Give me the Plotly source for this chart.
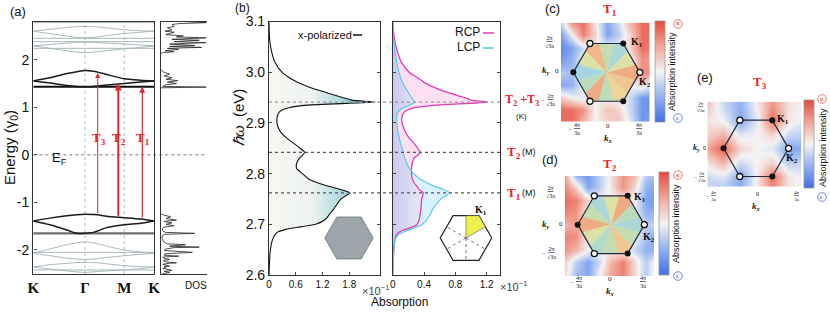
import numpy as np
import plotly.graph_objects as go
from plotly.colors import sample_colorscale

W, H = 830, 312
def PX(x): return x / W
def PY(y): return 1 - y / H

SANS = "Liberation Sans, Arial, sans-serif"
SERIF = "Liberation Serif, Times New Roman, serif"
RED = "#e8242b"
GRAY = "#a6b8bb"

# ---------------- (a) band structure ----------------
k_ticks = [0.0, 1.0, 1.76, 2.335]
k_labels = ["<b>K</b>", "<b>Γ</b>", "<b>M</b>", "<b>K</b>"]
k_path = [0.0, 0.32, 0.65, 0.84, 1.0, 1.16, 1.246, 1.42, 1.76, 2.08, 2.335]
cb_up = [1.555, 1.62, 1.71, 1.75, 1.775, 1.76, 1.74, 1.69, 1.60, 1.57, 1.555]
cb_lo = [1.555, 1.51, 1.46, 1.44, 1.43, 1.44, 1.45, 1.47, 1.50, 1.53, 1.555]
vb_up = [-1.39, -1.33, -1.28, -1.26, -1.25, -1.255, -1.26, -1.29, -1.32, -1.35, -1.39]
vb_lo = [-1.39, -1.47, -1.58, -1.65, -1.65, -1.63, -1.60, -1.53, -1.47, -1.44, -1.39]
gA_up = [2.60, 2.64, 2.68, 2.695, 2.70, 2.695, 2.69, 2.67, 2.63, 2.61, 2.60]
gA_lo = [2.60, 2.55, 2.50, 2.47, 2.46, 2.47, 2.48, 2.51, 2.55, 2.58, 2.60]
gB_up = [2.29, 2.32, 2.35, 2.365, 2.37, 2.365, 2.36, 2.35, 2.33, 2.31, 2.29]
gB_lo = [2.29, 2.24, 2.19, 2.16, 2.15, 2.16, 2.17, 2.19, 2.23, 2.26, 2.29]
gC_up = [-2.07, -1.98, -1.89, -1.85, -1.83, -1.85, -1.87, -1.92, -2.00, -2.04, -2.07]
gC_lo = [-2.07, -2.12, -2.17, -2.19, -2.20, -2.19, -2.18, -2.16, -2.12, -2.09, -2.07]
gD_up = [-2.36, -2.31, -2.28, -2.265, -2.26, -2.265, -2.27, -2.29, -2.33, -2.35, -2.36]
gD_lo = [-2.36, -2.40, -2.44, -2.46, -2.47, -2.46, -2.45, -2.44, -2.42, -2.39, -2.36]
flat_gray = [2.78, 2.45, 2.38, 2.24, -2.05, -2.42]
flat_black = 1.43
flat_dark = -1.65

trans_k = [1.246, 1.644, 2.108]
trans_lo = [-1.26, -1.31, -1.35]
trans_hi = [1.72, 1.50, 1.43]
trans_names = ["T<sub>3</sub>", "T<sub>2</sub>", "T<sub>1</sub>"]
trans_width = [1.0, 2.0, 1.2]

dos_E = [-2.50, -2.47, -2.45, -2.43, -2.41, -2.39, -2.37, -2.35, -2.34, -2.32, -2.30, -2.28, -2.27, -2.25,
         -2.22, -2.20, -2.18, -2.15, -2.13, -2.11, -2.08, -2.05, -2.03, -2.01, -1.98, -1.95, -1.94, -1.92,
         -1.89, -1.87, -1.84, -1.80, -1.75, -1.70, -1.67, -1.65, -1.63, -1.60, -1.55, -1.52, -1.49, -1.46,
         -1.43, -1.40, -1.37, -1.34, -1.30, -1.27, -1.25, -1.23,
         1.41, 1.425, 1.44, 1.47, 1.50, 1.53, 1.56, 1.59, 1.62, 1.66, 1.70, 1.74, 1.78, 1.80,
         2.13, 2.15, 2.17, 2.19, 2.22, 2.24, 2.26, 2.28, 2.30, 2.33, 2.36, 2.38, 2.41, 2.43, 2.46, 2.48,
         2.50, 2.53, 2.55, 2.58, 2.60, 2.63, 2.67, 2.70, 2.74, 2.76, 2.78, 2.80]
dos_v = [0.05, 0.2, 0.08, 0.25, 0.18, 0.05, 0.12, 0.08, 0.2, 0.1, 0.05, 0.2, 0.35, 0.1,
         0.06, 0.2, 0.08, 0.05, 0.4, 0.08, 0.1, 0.7, 0.25, 0.08, 0.12, 0.3, 0.85, 0.2,
         0.55, 0.15, 0.08, 0.05, 0.03, 0.04, 0.1, 0.75, 0.1, 0.05, 0.04, 0.07, 0.3, 0.12,
         0.25, 0.08, 0.35, 0.12, 0.22, 0.08, 0.02, 0.0,
         0.0, 1.0, 0.05, 0.1, 0.35, 0.15, 0.38, 0.12, 0.25, 0.08, 0.2, 0.07, 0.02, 0.0,
         0.0, 0.05, 0.3, 0.1, 0.4, 0.15, 0.9, 0.2, 0.75, 0.2, 1.0, 0.3, 0.85, 0.25, 1.0, 0.35,
         0.5, 0.12, 0.2, 0.3, 0.1, 0.25, 0.15, 0.3, 0.25, 0.4, 1.0, 0.6]

# ---------------- (b) absorption spectra ----------------
E_b = [2.60, 2.64, 2.66, 2.67, 2.68, 2.685, 2.69, 2.695, 2.70, 2.71, 2.72, 2.73, 2.74, 2.75, 2.755,
       2.762, 2.77, 2.775, 2.78, 2.79, 2.80, 2.81, 2.82, 2.83, 2.835, 2.842, 2.85, 2.86, 2.87, 2.88,
       2.89, 2.90, 2.91, 2.92, 2.925, 2.93, 2.935, 2.941, 2.945, 2.95, 2.96, 2.97, 2.98, 2.99, 3.00,
       3.02, 3.04, 3.06, 3.08, 3.10]
xpol = [0.0, 0.02, 0.05, 0.08, 0.14, 0.2, 0.38, 0.7, 1.05, 1.27, 1.36, 1.45, 1.53, 1.62, 1.70,
        1.82, 1.55, 1.35, 1.15, 0.88, 0.75, 0.62, 0.62, 0.68, 0.74, 0.80, 0.70, 0.55, 0.40, 0.28,
        0.21, 0.18, 0.18, 0.22, 0.28, 0.45, 0.85, 2.38, 1.85, 1.65, 1.28, 0.92, 0.64, 0.44, 0.29,
        0.13, 0.06, 0.02, 0.005, 0.0]
rcp = [0.0, 0.01, 0.02, 0.03, 0.05, 0.09, 0.16, 0.26, 0.31, 0.34, 0.35, 0.36, 0.365, 0.37, 0.38,
       0.39, 0.33, 0.31, 0.28, 0.25, 0.24, 0.24, 0.25, 0.27, 0.31, 0.35, 0.32, 0.27, 0.21, 0.17,
       0.14, 0.12, 0.115, 0.14, 0.18, 0.28, 0.56, 1.21, 1.0, 0.92, 0.70, 0.53, 0.40, 0.31, 0.21,
       0.11, 0.06, 0.03, 0.01, 0.0]
lcp = [0.0, 0.01, 0.02, 0.03, 0.08, 0.14, 0.22, 0.31, 0.38, 0.44, 0.48, 0.51, 0.56, 0.62, 0.66,
       0.73, 0.63, 0.53, 0.46, 0.34, 0.27, 0.21, 0.18, 0.155, 0.145, 0.135, 0.12, 0.10, 0.085, 0.07,
       0.06, 0.055, 0.05, 0.06, 0.09, 0.14, 0.21, 0.29, 0.26, 0.24, 0.20, 0.16, 0.125, 0.10, 0.08,
       0.05, 0.03, 0.015, 0.005, 0.0]
peak_E = [2.941, 2.842, 2.762]

# ---------------- (c)(d)(e) k-space maps ----------------
kx_grid = [-1.4, -1.05, -0.7, -0.35, 0.0, 0.35, 0.7, 1.05, 1.4]
ky_grid_top_down = [1.5, 1.125, 0.75, 0.375, 0.0, -0.375, -0.75, -1.125, -1.5]
map_c = [
    [-0.3, 0.6, 0.8, 0.1, -0.6, -0.2, 0.4, 0.8, 0.8],
    [-0.7, 0.0, 0.7, 0.2, -0.6, -0.3, 0.2, 0.8, 0.8],
    [-0.8, -0.6, -0.2, 0.0, 0.0, 0.0, 0.2, 0.8, 0.7],
    [-0.7, -0.5, 0.0, 0.0, 0.0, 0.0, 0.0, 0.6, 0.5],
    [-0.3, -0.4, 0.0, 0.0, 0.0, 0.0, 0.0, 0.6, 0.7],
    [-0.6, -0.5, 0.0, 0.0, 0.0, 0.0, 0.0, 0.2, -0.2],
    [0.3, 0.0, -0.1, 0.0, 0.0, 0.0, -0.2, -0.7, -0.7],
    [0.8, 0.8, 0.6, 0.0, 0.3, 0.2, -0.2, -0.7, -0.7],
    [0.8, 0.8, 0.4, 0.0, 0.2, 0.3, -0.1, -0.7, -0.6],
]
map_d = [
    [0.6, -0.5, -0.7, -0.3, 0.1, 0.6, 0.4, -0.3, -0.4],
    [0.7, 0.2, -0.6, -0.3, 0.1, 0.6, 0.2, -0.5, -0.6],
    [0.8, 0.7, 0.2, 0.0, 0.0, 0.0, 0.0, -0.6, -0.7],
    [0.7, 0.6, 0.0, 0.0, 0.0, 0.0, 0.0, -0.5, -0.5],
    [0.4, 0.5, 0.0, 0.0, 0.0, 0.0, 0.0, -0.3, -0.2],
    [0.7, 0.6, 0.0, 0.0, 0.0, 0.0, 0.0, -0.4, -0.6],
    [0.6, 0.4, 0.0, 0.0, 0.0, 0.0, -0.2, -0.5, -0.5],
    [0.3, -0.3, -0.6, -0.2, 0.4, 0.7, 0.2, -0.3, 0.2],
    [0.2, -0.4, -0.6, 0.0, 0.5, 0.7, 0.2, -0.3, 0.3],
]
kx_grid_e = [-1.5, -1.0, -0.5, 0.0, 0.5, 1.0, 1.5]
ky_grid_e_top_down = [1.299, 0.866, 0.433, 0.0, -0.433, -0.866, -1.299]
map_e = [
    [0.3, -0.2, -0.5, 0.0, 0.6, 0.1, 0.0],
    [0.1, 0.0, -0.6, -0.1, 0.8, 0.1, -0.1],
    [0.2, 0.4, -0.1, 0.0, 0.2, -0.2, -0.3],
    [0.5, 0.85, 0.2, 0.0, -0.1, -0.6, -0.5],
    [0.1, 0.4, -0.2, 0.0, 0.2, -0.3, -0.2],
    [-0.2, -0.1, -0.6, 0.0, 0.8, 0.1, -0.1],
    [-0.3, -0.4, -0.5, 0.1, 0.6, 0.1, 0.0],
]
sector_angles = [0, 30, 60, 90, 120, 150, 180, 210, 240, 270, 300, 330]
sector_c = [0.85, 0.6, 0.35, 0.5, 0.8, 0.6, 0.3, 0.45, 0.85, 0.45, 0.7, 0.75]
sector_d = [0.35, 0.45, 0.85, 0.6, 0.35, 0.5, 0.85, 0.6, 0.4, 0.5, 0.75, 0.5]
hex_angles = [0, 60, 120, 180, 240, 300]
open_vertices = [0, 120, 240]
filled_vertices = [60, 180, 300]

CW = [[0, "#3f6fe6"], [0.25, "#93b2f0"], [0.5, "#f3f3f3"], [0.75, "#f1a496"], [1, "#e64a3a"]]
JET = [[0, "#86a9e4"], [0.3, "#a4d4e4"], [0.5, "#c4ddb0"], [0.65, "#ebe3a0"], [0.8, "#f1b689"], [1, "#ea8c70"]]

fig = go.Figure()

def line_trace(x, y, color, width, xa, ya, shape="spline", dash=None):
    fig.add_trace(go.Scatter(x=x, y=y, mode="lines", xaxis=xa, yaxis=ya, hoverinfo="skip",
                             line=dict(color=color, width=width, shape=shape, smoothing=0.8, dash=dash)))

# (a) bands
for b in [gA_up, gA_lo, gB_up, gB_lo, gC_up, gC_lo, gD_up, gD_lo]:
    line_trace(k_path, b, GRAY, 1.0, "x", "y")
for e in flat_gray:
    line_trace([k_ticks[0], k_ticks[-1]], [e, e], GRAY, 1.0, "x", "y", shape="linear")
line_trace([k_ticks[0], k_ticks[-1]], [flat_dark, flat_dark], "#6e6e6e", 2.4, "x", "y", shape="linear")
line_trace([k_ticks[0], k_ticks[-1]], [flat_black, flat_black], "#111", 2.0, "x", "y", shape="linear")
for b in [cb_up, cb_lo, vb_up, vb_lo]:
    line_trace(k_path, b, "#1a1a1a", 1.5, "x", "y")
# DOS
line_trace(dos_v, dos_E, "#222", 0.8, "x2", "y2", shape="linear")

# (b) x-polarized
fig.add_trace(go.Scatter(x=xpol, y=E_b, xaxis="x3", yaxis="y3", mode="lines", hoverinfo="skip",
                         line=dict(color="#111", width=1.1, shape="spline", smoothing=0.6),
                         fill="tozerox",
                         fillgradient=dict(type="horizontal",
                                           colorscale=[[0, "#f7f7f2"], [0.4, "#eef3f1"], [0.72, "#a4d4db"], [1, "#38a2b6"]])))
# (b) circular
min_v = np.minimum(rcp, lcp).tolist()
sp = dict(shape="spline", smoothing=0.6)
fig.add_trace(go.Scatter(x=min_v, y=E_b, xaxis="x4", yaxis="y4", mode="lines", hoverinfo="skip",
                         line=dict(width=0, **sp), fill="tozerox",
                         fillgradient=dict(type="horizontal", colorscale=[[0, "#c9c9ee"], [1, "#ebeaf8"]])))
fig.add_trace(go.Scatter(x=rcp, y=E_b, xaxis="x4", yaxis="y4", mode="lines", hoverinfo="skip",
                         line=dict(width=0, **sp), fill="tonextx", fillcolor="#fbe0f2"))
fig.add_trace(go.Scatter(x=min_v, y=E_b, xaxis="x4", yaxis="y4", mode="lines", hoverinfo="skip",
                         line=dict(width=0, **sp)))
fig.add_trace(go.Scatter(x=lcp, y=E_b, xaxis="x4", yaxis="y4", mode="lines", hoverinfo="skip",
                         line=dict(width=0, **sp), fill="tonextx", fillcolor="#d8f1fa"))
fig.add_trace(go.Scatter(x=rcp, y=E_b, xaxis="x4", yaxis="y4", mode="lines", hoverinfo="skip",
                         line=dict(color="#e23bb5", width=1.3, **sp)))
fig.add_trace(go.Scatter(x=lcp, y=E_b, xaxis="x4", yaxis="y4", mode="lines", hoverinfo="skip",
                         line=dict(color="#4cc8ea", width=1.1, **sp)))

# insets in (b)
hx = [np.cos(np.radians(a)) for a in hex_angles + [0]]
hy = [np.sin(np.radians(a)) for a in hex_angles + [0]]
fig.add_trace(go.Scatter(x=hx, y=hy, xaxis="x8", yaxis="y8", mode="lines", fill="toself",
                         fillcolor="#9aa6a9", line=dict(color="#7b8689", width=1), hoverinfo="skip"))
fig.add_trace(go.Scatter(x=hx, y=hy, xaxis="x9", yaxis="y9", mode="lines", fill="toself",
                         fillcolor="white", line=dict(color="#222", width=1.2), hoverinfo="skip"))
r_mid = np.sqrt(3) / 2
kite_ang = [90, 60, 30]
kite_r = [r_mid, 1.0, r_mid]
kx_k = [0] + [r * np.cos(np.radians(a)) for r, a in zip(kite_r, kite_ang)] + [0]
ky_k = [0] + [r * np.sin(np.radians(a)) for r, a in zip(kite_r, kite_ang)] + [0]
fig.add_trace(go.Scatter(x=kx_k, y=ky_k, xaxis="x9", yaxis="y9", mode="lines", fill="toself",
                         fillcolor="#eef04a", line=dict(color="#555", width=0.6), hoverinfo="skip"))
for a in [150, 210, 270, 330]:
    fig.add_trace(go.Scatter(x=[0, r_mid * np.cos(np.radians(a))], y=[0, r_mid * np.sin(np.radians(a))],
                             xaxis="x9", yaxis="y9", mode="lines", hoverinfo="skip",
                             line=dict(color="#555", width=0.8, dash="dot")))

# k-space maps
def hex_r(phi):
    return r_mid / np.cos(np.radians((phi % 60) - 30))

def bz_panel(xa, ya, kxg, kyg_td, zrows, cbar, sectors=None):
    fig.add_trace(go.Heatmap(x=kxg, y=kyg_td[::-1], z=zrows[::-1], xaxis=xa, yaxis=ya,
                             colorscale=CW, zmin=-1, zmax=1, zsmooth="best", hoverinfo="skip",
                             colorbar=cbar))
    if sectors is not None:
        cols = sample_colorscale(JET, sectors)
        for th, c in zip(sector_angles, cols):
            phis = [th - 15, th, th + 15]
            xs = [0] + [hex_r(p) * np.cos(np.radians(p)) for p in phis] + [0]
            ys = [0] + [hex_r(p) * np.sin(np.radians(p)) for p in phis] + [0]
            fig.add_trace(go.Scatter(x=xs, y=ys, xaxis=xa, yaxis=ya, mode="lines", fill="toself",
                                     fillcolor=c, line=dict(color=c, width=0.6), hoverinfo="skip"))
    fig.add_trace(go.Scatter(x=hx, y=hy, xaxis=xa, yaxis=ya, mode="lines", hoverinfo="skip",
                             line=dict(color="#1e2a40", width=1.2)))
    fig.add_trace(go.Scatter(x=[np.cos(np.radians(a)) for a in filled_vertices],
                             y=[np.sin(np.radians(a)) for a in filled_vertices],
                             xaxis=xa, yaxis=ya, mode="markers", hoverinfo="skip",
                             marker=dict(size=6, color="#111")))
    fig.add_trace(go.Scatter(x=[np.cos(np.radians(a)) for a in open_vertices],
                             y=[np.sin(np.radians(a)) for a in open_vertices],
                             xaxis=xa, yaxis=ya, mode="markers", hoverinfo="skip",
                             marker=dict(size=6, color="white", line=dict(color="#111", width=1.3))))

def cbar(x, yc, ln):
    return dict(x=PX(x), xanchor="left", y=PY(yc), yanchor="middle", len=ln, lenmode="pixels",
                thickness=10, thicknessmode="pixels", showticklabels=False, ticks="",
                outlinewidth=0.8, outlinecolor="#999", xpad=0, ypad=0)

bz_panel("x5", "y5", kx_grid, ky_grid_top_down, map_c, cbar(655, 71.2, 101), sector_c)
bz_panel("x6", "y6", kx_grid, ky_grid_top_down, map_d, cbar(659, 223.5, 103), sector_d)
bz_panel("x7", "y7", kx_grid_e, ky_grid_e_top_down, map_e, cbar(804, 144, 88), None)

# ---------------- layout ----------------
def axis_frame(**kw):
    d = dict(showgrid=False, zeroline=False, showline=True, linecolor="#333", linewidth=1.2,
             automargin=False)
    d.update(kw)
    return d

hidden = dict(visible=False, showgrid=False, zeroline=False, automargin=False)
ya_dom = [PY(274), PY(21.7)]
yb_dom = [PY(275), PY(21.5)]

layout = dict(
    template="none",
    width=W, height=H, margin=dict(l=0, r=0, t=0, b=0, pad=0, autoexpand=False),
    paper_bgcolor="white", plot_bgcolor="rgba(0,0,0,0)",
    showlegend=False, font=dict(family=SANS, color="#111"),
    xaxis=axis_frame(domain=[PX(33.3), PX(154)], range=[0, 2.335], tickvals=k_ticks, ticktext=k_labels,
                     tickfont=dict(family=SERIF, size=15, color="#111"), ticks="", mirror=True,
                     linewidth=1.4, anchor="y"),
    yaxis=axis_frame(domain=ya_dom, range=[-2.505, 2.8], tickvals=[-2, -1, 0, 1, 2],
                     ticktext=["-2", "-1", "0", "1", "2"], tickfont=dict(size=14), ticks="inside",
                     ticklen=3, mirror=True, linewidth=1.4, anchor="x"),
    xaxis2=axis_frame(domain=[PX(160.5), PX(207)], range=[0, 1.02], showticklabels=False, ticks="",
                      mirror=True, anchor="y2"),
    yaxis2=axis_frame(domain=ya_dom, range=[-2.505, 2.8], showticklabels=False, ticks="", anchor="x2"),
    xaxis3=axis_frame(domain=[PX(269), PX(380)], range=[0, 2.49], tickvals=[0, 0.6, 1.2, 1.8],
                      ticktext=["0", "0.6", "1.2", "1.8"], tickfont=dict(size=10), ticks="inside",
                      ticklen=3, mirror=True, anchor="y3"),
    yaxis3=axis_frame(domain=yb_dom, range=[2.6, 3.1], tickvals=[2.6, 2.7, 2.8, 2.9, 3.0, 3.1],
                      ticktext=["2.6", "2.7", "2.8", "2.9", "3.0", "3.1"], tickfont=dict(size=14),
                      ticks="inside", ticklen=3, mirror="ticks", anchor="x3"),
    xaxis4=axis_frame(domain=[PX(392.7), PX(500)], range=[0, 1.37], tickvals=[0, 0.4, 0.8, 1.2],
                      ticktext=["0", "0.4", "0.8", "1.2"], tickfont=dict(size=10), ticks="inside",
                      ticklen=3, mirror=True, anchor="y4"),
    yaxis4=axis_frame(domain=yb_dom, range=[2.6, 3.1], tickvals=[2.6, 2.7, 2.8, 2.9, 3.0, 3.1],
                      showticklabels=False, ticks="inside", ticklen=3, mirror="ticks", anchor="x4"),
    xaxis5=dict(hidden, domain=[PX(561), PX(649.5)], range=[-1.37, 1.29], anchor="y5"),
    yaxis5=dict(hidden, domain=[PY(121.7), PY(22.7)], range=[-1.48, 1.49], anchor="x5"),
    xaxis6=dict(hidden, domain=[PX(565), PX(654)], range=[-1.38, 1.29], anchor="y6"),
    yaxis6=dict(hidden, domain=[PY(276), PY(176)], range=[-1.54, 1.46], anchor="x6"),
    xaxis7=dict(hidden, domain=[PX(707.3), PX(801.7)], range=[-1.5, 1.405], anchor="y7"),
    yaxis7=dict(hidden, domain=[PY(186.7), PY(101.7)], range=[-1.18, 1.435], anchor="x7"),
    xaxis8=dict(hidden, domain=[PX(320), PX(378)], range=[-1.198, 1.198], anchor="y8"),
    yaxis8=dict(hidden, domain=[PY(262), PY(214)], range=[-0.992, 0.992], anchor="x8"),
    xaxis9=dict(hidden, domain=[PX(436), PX(496)], range=[-1.163, 1.163], anchor="y9"),
    yaxis9=dict(hidden, domain=[PY(264), PY(212)], range=[-1.008, 1.008], anchor="x9"),
)

shapes = []
for kv in k_ticks[1:3]:
    shapes.append(dict(type="line", xref="x", yref="y domain", x0=kv, x1=kv, y0=0, y1=1, layer="below",
                       line=dict(color="#aaaaaa", width=0.8, dash="dot")))
shapes.append(dict(type="line", xref="paper", yref="y", x0=PX(33.3), x1=PX(207), y0=0, y1=0,
                   line=dict(color="#555", width=0.8, dash="dot")))
for i, e in enumerate(peak_E):
    shapes.append(dict(type="line", xref="paper", yref="y3", x0=PX(269), x1=PX(502), y0=e, y1=e,
                       line=dict(color="#999" if i == 0 else "#555", width=1.2, dash="dot")))
# legend dashes
shapes.append(dict(type="line", xref="paper", yref="paper", x0=PX(353), x1=PX(362), y0=PY(35), y1=PY(35),
                   line=dict(color="#111", width=1.5)))
shapes.append(dict(type="line", xref="paper", yref="paper", x0=PX(483), x1=PX(494), y0=PY(33), y1=PY(33),
                   line=dict(color="#e23bb5", width=1.5)))
shapes.append(dict(type="line", xref="paper", yref="paper", x0=PX(483), x1=PX(494), y0=PY(48), y1=PY(48),
                   line=dict(color="#4cc8ea", width=1.5)))

anns = []
def ann(text, x, y, size=11, color="#111", family=SANS, angle=0, xanchor="center", yanchor="middle"):
    anns.append(dict(text=text, x=PX(x), y=PY(y), xref="paper", yref="paper", showarrow=False,
                     font=dict(size=size, color=color, family=family), textangle=angle,
                     xanchor=xanchor, yanchor=yanchor))

def rl_circles(cx, ytop, ybot):
    for cy, col, t in [(ytop, "#e8574a", "R"), (ybot, "#4a6ee8", "L")]:
        shapes.append(dict(type="circle", xref="paper", yref="paper", x0=PX(cx - 4.3), x1=PX(cx + 4.3),
                           y0=PY(cy + 4.3), y1=PY(cy - 4.3), line=dict(color=col, width=0.8),
                           fillcolor="white"))
        ann("<b>%s</b>" % t, cx, cy, size=5, color=col, family=SERIF)

def frac(num, den, x, y, neg=False, size=6):
    ann("<u>%s</u><br>%s" % (num, den), x, y, size=size, family=SERIF)
    if neg:
        ann("−", x - 7, y, size=size, family=SERIF)

# (a)
ann("(a)", 18, 12, size=13)
ann("Energy (γ<sub>0</sub>)", 10, 148, size=15, angle=-90)
ann("E<sub>F</sub>", 59, 158, size=13)
ann("DOS", 196, 285, size=10)
for k, lo, hi, w, nm in zip(trans_k, trans_lo, trans_hi, trans_width, trans_names):
    anns.append(dict(x=k, y=hi, ax=k, ay=lo, xref="x", yref="y", axref="x", ayref="y", text="",
                     showarrow=True, arrowhead=2, arrowsize=1.0 if w < 1.5 else 0.7, arrowwidth=w,
                     arrowcolor=RED, standoff=0))
for k, nm in zip(trans_k, trans_names):
    xp = 33.3 + k * (154 - 33.3) / 2.335
    ann("<b>%s</b>" % nm, xp + 1, 138, size=13, color=RED, family=SERIF)

# (b)
ann("(b)", 242, 8, size=12)
ann("<i>ℏω</i>  (eV)", 238, 118, size=15, angle=-90)
ann("x-polarized", 325, 35, size=11)
ann("RCP", 482, 32, size=12, xanchor="right")
ann("LCP", 482, 47, size=12, xanchor="right")
ann("×10<sup>−1</sup>", 375, 290, size=11, color="#444")
ann("×10<sup>−1</sup>", 513, 286, size=11, color="#444")
ann("Absorption", 399, 302, size=12)
ann("<b>T<sub>2</sub> +T<sub>3</sub></b>", 522, 100, size=12, color=RED, family=SERIF)
ann("(K)", 521, 116, size=8)
ann("<b>T<sub>2</sub></b>", 514, 152, size=13, color=RED, family=SERIF)
ann("(M)", 529, 152, size=9)
ann("<b>T<sub>1</sub></b>", 514, 193, size=13, color=RED, family=SERIF)
ann("(M)", 529, 193, size=9)
ann("<b>K<sub>1</sub></b>", 481, 210, size=10, family=SERIF)

# (c)
ann("(c)", 552, 8, size=13)
ann("<b>T<sub>1</sub></b>", 610, 9, size=13, color=RED, family=SERIF)
ann("<b>K<sub>1</sub></b>", 637, 43, size=10, family=SERIF)
ann("<b>K<sub>2</sub></b>", 645, 83, size=10, family=SERIF)
frac("2π", "√3a", 549, 42)
frac("2π", "√3a", 550, 100, neg=True)
ann("<b><i>k<sub>y</sub></i></b>", 546, 71, size=9, family=SERIF)
ann("0", 557, 71, size=7, family=SERIF)
frac("4π", "3a", 577, 129, neg=True)
ann("0", 608, 126, size=7, family=SERIF)
frac("4π", "3a", 639, 129)
ann("<b><i>k<sub>x</sub></i></b>", 608, 138, size=9, family=SERIF)
ann("Absorption intensity", 672, 72, size=9, angle=-90)
rl_circles(678, 24, 118)

# (d)
ann("(d)", 550, 159, size=13)
ann("<b>T<sub>2</sub></b>", 610, 164, size=13, color=RED, family=SERIF)
ann("<b>K<sub>1</sub></b>", 640, 197, size=10, family=SERIF)
ann("<b>K<sub>2</sub></b>", 649, 237, size=10, family=SERIF)
frac("2π", "√3a", 550, 192)
frac("2π", "√3a", 551, 253, neg=True)
ann("<b><i>k<sub>y</sub></i></b>", 546, 224, size=9, family=SERIF)
ann("0", 561, 224, size=7, family=SERIF)
frac("4π", "3a", 579, 282, neg=True)
ann("0", 610, 279, size=7, family=SERIF)
frac("4π", "3a", 643, 282)
ann("<b><i>k<sub>x</sub></i></b>", 610, 291, size=9, family=SERIF)
ann("Absorption intensity", 676, 224, size=9, angle=-90)
rl_circles(678, 175, 276)

# (e)
ann("(e)", 705, 77, size=13)
ann("<b>T<sub>3</sub></b>", 760, 83, size=13, color=RED, family=SERIF)
ann("<b>K<sub>1</sub></b>", 783, 120, size=10, family=SERIF)
ann("<b>K<sub>2</sub></b>", 792, 158, size=10, family=SERIF)
frac("2π", "√3a", 701, 107, size=5)
frac("2π", "√3a", 702, 177, neg=True, size=5)
ann("<b><i>k<sub>y</sub></i></b>", 696, 148, size=8, family=SERIF)
ann("0", 704, 148, size=6, family=SERIF)
frac("4π", "3a", 714, 196, neg=True, size=5)
ann("0", 757, 194, size=6, family=SERIF)
frac("4π", "3a", 797, 196, size=5)
ann("<b><i>k<sub>x</sub></i></b>", 756, 206, size=9, family=SERIF)
ann("Absorption intensity", 823, 148, size=9, angle=-90)
rl_circles(822, 99, 197)

layout["shapes"] = shapes
layout["annotations"] = anns
fig.update_layout(**layout)
fig.write_html("out.html", config={"displayModeBar": False},
               post_script="document.body.style.margin='0px';document.body.style.overflow='hidden';")
